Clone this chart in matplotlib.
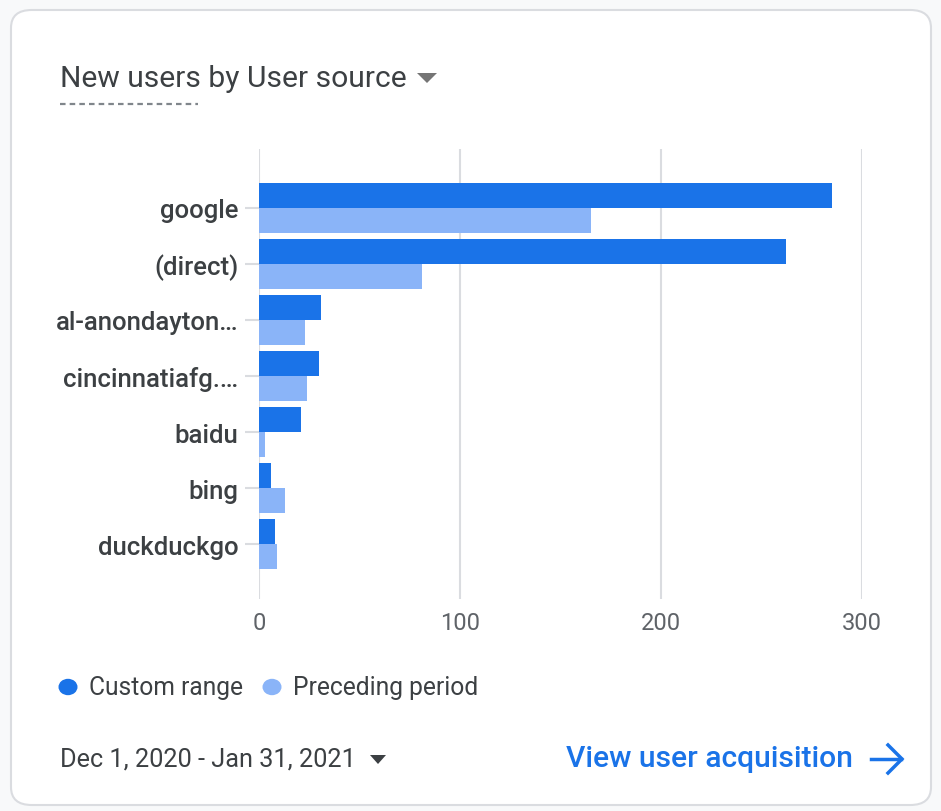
import matplotlib
matplotlib.use('Agg')
import matplotlib.pyplot as plt
import numpy as np
from matplotlib.patches import FancyBboxPatch, Polygon, Circle
from matplotlib.lines import Line2D

# data
sources = ['google', '(direct)', 'al-anondayton…', 'cincinnatiafg.…',
           'baidu', 'bing', 'duckduckgo']
custom_range = [285, 262, 31, 30, 21, 6, 8]
preceding_period = [165, 81, 23, 24, 3, 13, 9]
x_ticks = [0, 100, 200, 300]

BLUE = '#1a73e8'
LIGHT = '#8ab4f8'
TEXT = '#3c4043'
GREY = '#5f6368'
GRID = '#dadce0'

W, H = 941, 812
plt.rcParams['font.family'] = ['Roboto', 'DejaVu Sans']

fig = plt.figure(figsize=(W / 100, H / 100), dpi=100)
fig.patch.set_facecolor('#f8f9fa')


def fx(x):
    return x / W


def fy(y):
    return 1 - y / H


# card behind everything
card = FancyBboxPatch((fx(11), fy(806)), fx(920), (795) / H,
                      boxstyle='round,pad=0,rounding_size=0.022',
                      transform=fig.transFigure, facecolor='white',
                      edgecolor=GRID, linewidth=1.5, zorder=-5)
fig.add_artist(card)

# plot area: x 0..300 -> 259..862 px, y 150..600 px
ax = fig.add_axes([fx(259), fy(600), fx(862 - 259), (600 - 150) / H])
ax.set_zorder(2)
ax.set_facecolor('none')

y = np.arange(len(sources))
h = 0.445
ax.barh(y - h / 2 - 0.005, custom_range, height=h, color=BLUE, zorder=3)
ax.barh(y + h / 2 + 0.005, preceding_period, height=h, color=LIGHT, zorder=3)

ax.set_xlim(0, 300)
ax.set_ylim(len(sources) - 1 + 0.98, -1.05)
ax.set_xticks(x_ticks)
ax.set_xticklabels([str(t) for t in x_ticks], fontsize=17, color=GREY)
ax.set_yticks(y)
ax.set_yticklabels(sources, fontsize=18.5, color=TEXT, fontweight='medium')
ax.tick_params(axis='x', length=0, pad=9)
ax.tick_params(axis='y', length=10, width=1.5, color=GRID, pad=5)
ax.grid(axis='x', color=GRID, linewidth=1.5, zorder=0)
for s in ax.spines.values():
    s.set_visible(False)

# title
fig.text(fx(60), fy(79), 'New users by User source', fontsize=21.6,
         color=TEXT, va='center', ha='left')
fig.add_artist(Polygon([[fx(417), fy(74)], [fx(437), fy(74)], [fx(427), fy(84)]],
                       closed=True, transform=fig.transFigure,
                       facecolor='#757575', edgecolor='none'))
fig.add_artist(Line2D([fx(60), fx(198)], [fy(104.5), fy(104.5)],
                      transform=fig.transFigure, color='#80868b',
                      linewidth=1.6, linestyle=(0, (2.5, 1.85))))

# legend
for cx, col, lab in [(68, BLUE, 'Custom range'), (272, LIGHT, 'Preceding period')]:
    fig.add_artist(Circle((fx(cx), fy(688)), 9.5 / W, transform=fig.transFigure,
                          facecolor=col, edgecolor='none'))
    fig.text(fx(cx + 21), fy(688), lab, fontsize=17.7, color=TEXT,
             va='center', ha='left')

# footer
fig.text(fx(60), fy(760), 'Dec 1, 2020 - Jan 31, 2021', fontsize=18.2,
         color=TEXT, va='center', ha='left')
fig.add_artist(Polygon([[fx(370), fy(756)], [fx(386), fy(756)], [fx(378), fy(765)]],
                       closed=True, transform=fig.transFigure,
                       facecolor=TEXT, edgecolor='none'))
fig.text(fx(853), fy(759), 'View user acquisition', fontsize=21.6,
         color=BLUE, va='center', ha='right', fontweight='medium')
fig.add_artist(Line2D([fx(871), fx(901)], [fy(760), fy(760)],
                      transform=fig.transFigure, color=BLUE, linewidth=2.5))
fig.add_artist(Line2D([fx(888), fx(902), fx(888)], [fy(746), fy(760), fy(774)],
                      transform=fig.transFigure, color=BLUE, linewidth=2.5,
                      solid_joinstyle='miter'))

plt.savefig('out.png', dpi=100, facecolor=fig.get_facecolor())
